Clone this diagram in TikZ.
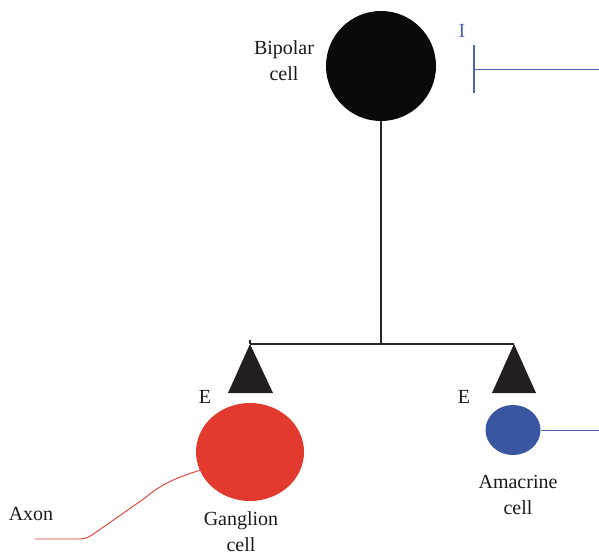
\documentclass[tikz,border=0pt]{standalone}
\usepackage{fontspec}
\setmainfont{Liberation Serif}
\usetikzlibrary{shapes.geometric}
\definecolor{cellred}{HTML}{E23A2E}
\definecolor{cellblue}{HTML}{3B56A0}
\definecolor{inhblue}{HTML}{4A66B0}
\definecolor{tri}{HTML}{231F20}
\begin{document}
\begin{tikzpicture}[x=1pt,y=-1pt,
  lbl/.style={font=\fontsize{20}{26}\selectfont, align=center, inner sep=0pt, text=black!90},
  wire/.style={line width=1.1pt, draw=black!85},
  synapse/.style={fill=tri, draw=none}]
\useasboundingbox (0,0) rectangle (599,556);
% cells
\node[circle, fill=black!96, minimum size=110pt, inner sep=0pt] (bip) at (381,66) {};
\node[ellipse, fill=cellred, minimum width=108pt, minimum height=98pt, inner sep=0pt] (gang) at (250,452) {};
\node[ellipse, fill=cellblue, minimum width=55pt, minimum height=50pt, inner sep=0pt] (ama) at (513,430) {};
% labels
\node[lbl] (tbip) at (284,61) {Bipolar\\cell};
\node[lbl] (tgang) at (241,532) {Ganglion\\cell};
\node[lbl] (tama) at (518,495) {Amacrine\\cell};
\node[lbl] (taxon) at (31,514) {Axon};
\node[lbl] (eL) at (205,397) {E};
\node[lbl] (eR) at (464,397) {E};
\node[lbl, text=inhblue] (tI) at (462,31) {I};
% bipolar output
\coordinate (junc) at (381,344);
\coordinate (apL) at (250,344);
\coordinate (apR) at (514,344);
\draw[wire] (bip.south) -- (junc);
\draw[wire] (apL) -- (apR);
\draw[wire] (apL) -- ++(0,-4);
\fill[synapse] (apL) -- (273,393) -- (228,393) -- cycle;
\fill[synapse] (apR) -- (536,393) -- (492,393) -- cycle;
% inhibitory input
\coordinate (barT) at (474,45);
\coordinate (barB) at (474,93);
\coordinate (barM) at (474,70);
\coordinate (inEnd) at (599,70);
\draw[inhblue, line width=1.2pt] (barT) -- (barB);
\draw[inhblue, line width=1pt] (barM) -- (inEnd);
% amacrine process
\coordinate (amaEnd) at (599,430);
\draw[inhblue, line width=1pt] (ama.east) -- (amaEnd);
% axon
\coordinate (axEnd) at (35,539);
\draw[cellred, line width=0.9pt] (gang.200) .. controls (175,478) and (160,485) .. (145,498)
  -- (92,535) .. controls (86,539) and (82,539) .. (76,539) -- (axEnd);
\end{tikzpicture}
\end{document}
